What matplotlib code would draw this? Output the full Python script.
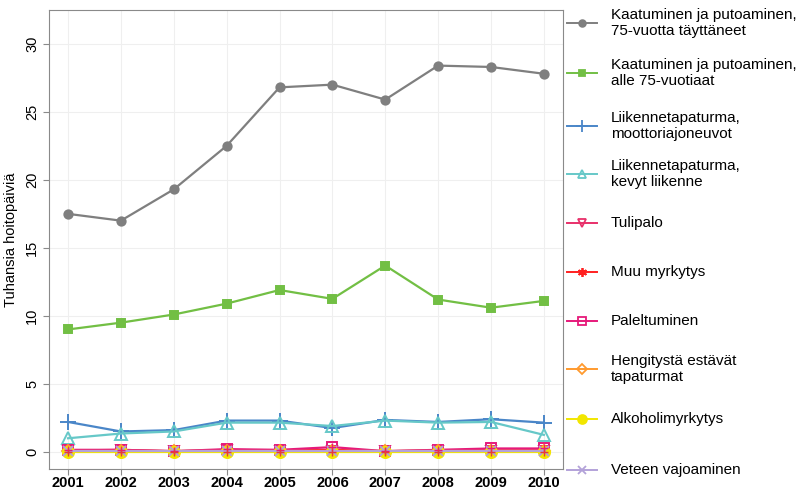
import matplotlib.pyplot as plt
from matplotlib.lines import Line2D

plt.rcParams["font.family"] = ["Liberation Sans", "DejaVu Sans"]

years = [2001, 2002, 2003, 2004, 2005, 2006, 2007, 2008, 2009, 2010]

kaat_75 = [17.5, 17.0, 19.3, 22.5, 26.8, 27.0, 25.9, 28.4, 28.3, 27.8]
kaat_alle = [9.0, 9.5, 10.1, 10.9, 11.9, 11.25, 13.7, 11.2, 10.6, 11.1]
liik_moot = [2.2, 1.5, 1.6, 2.3, 2.3, 1.75, 2.35, 2.2, 2.4, 2.15]
liik_kevyt = [1.0, 1.35, 1.5, 2.15, 2.15, 1.9, 2.3, 2.15, 2.2, 1.25]
tulipalo = [0.1, 0.15, 0.05, 0.15, 0.1, 0.1, 0.05, 0.1, 0.1, 0.1]
muu_myrk = [0.1, 0.1, 0.05, 0.1, 0.1, 0.15, 0.05, 0.1, 0.1, 0.1]
palelt = [0.15, 0.15, 0.05, 0.2, 0.15, 0.35, 0.05, 0.15, 0.25, 0.25]
hengitys = [0.05, 0.05, 0.05, 0.05, 0.05, 0.05, 0.05, 0.05, 0.05, 0.05]
alkoholi = [0.0, 0.0, 0.0, 0.0, 0.0, 0.0, 0.0, 0.0, 0.0, 0.0]
veteen = [0.1, 0.1, 0.1, 0.1, 0.1, 0.1, 0.1, 0.1, 0.1, 0.1]

labels = [
    "Kaatuminen ja putoaminen,\n75-vuotta täyttäneet",
    "Kaatuminen ja putoaminen,\nalle 75-vuotiaat",
    "Liikennetapaturma,\nmoottoriajoneuvot",
    "Liikennetapaturma,\nkevyt liikenne",
    "Tulipalo",
    "Muu myrkytys",
    "Paleltuminen",
    "Hengitystä estävät\ntapaturmat",
    "Alkoholimyrkytys",
    "Veteen vajoaminen",
]

# (color, marker, size, filled)
styles = [
    ("#7f7f7f", "o", 6, True),
    ("#72bf44", "s", 6, True),
    ("#4a86c8", "+", 11, False),
    ("#66c8c8", "^", 8, False),
    ("#e8306a", "v", 7, False),
    ("#ff2020", (6, 2, 0), 8, False),
    ("#e6197a", "s", 7, False),
    ("#ff9a2e", "D", 6, False),
    ("#f2e600", "o", 8, True),
    ("#b3a2d9", "x", 7, False),
]

series = [kaat_75, kaat_alle, liik_moot, liik_kevyt, tulipalo, muu_myrk,
          palelt, hengitys, alkoholi, veteen]

fig = plt.figure(figsize=(8.03, 4.92), dpi=100)
ax = fig.add_axes([0.061, 0.047, 0.64, 0.933])


def draw(target, x, y, st, lw=1.6):
    col, mk, ms, filled = st
    fc = col if filled else "none"
    target.plot(x, y, color=col, lw=lw, marker=mk, ms=ms, mfc=fc,
                mec=col, mew=1.4)


for y, st in zip(series, styles):
    draw(ax, years, y, st)
# extra crosses inside some markers (square with plus, circle with plus)
ax.plot(years, palelt, ls="none", marker="+", ms=6, mec="#e6197a", mew=1.0)
ax.plot(years, alkoholi, ls="none", marker="+", ms=6, mec="#e83a3a", mew=1.0)

ax.set_xlim(2000.64, 2010.36)
ax.set_ylim(-1.25, 32.5)
ax.set_xticks(years)
ax.set_yticks([0, 5, 10, 15, 20, 25, 30])
ax.grid(True, color="#efefef", lw=0.8)
ax.set_axisbelow(True)
for s in ax.spines.values():
    s.set_color("#8a8a8a")
ax.tick_params(axis="both", colors="#8a8a8a", length=4, labelcolor="black")
ax.tick_params(axis="y", labelsize=10.5, pad=3)
ax.tick_params(axis="x", labelsize=10.5, pad=1)
for t in ax.get_yticklabels():
    t.set_rotation(90)
    t.set_va("center")
for t in ax.get_xticklabels():
    t.set_fontweight("bold")
ax.set_ylabel("Tuhansia hoitopäiviä", fontsize=10.5, labelpad=5)

# legend drawn to the right of the plot
W, H = 803, 492
ys = [23, 73, 126, 174, 223, 272, 321, 369, 419, 470]
for yy, lab, st in zip(ys, labels, styles):
    col, mk, ms, filled = st
    fy = 1 - yy / H
    fig.add_artist(Line2D([567 / W, 597 / W], [fy, fy], color=col, lw=1.4))
    fig.add_artist(Line2D([582 / W], [fy], color=col, marker=mk, ms=ms * 0.8,
                          mfc=col if filled else "none", mec=col, mew=1.3))
    fig.text(611 / W, fy, lab, fontsize=11, va="center", ha="left",
             linespacing=1.25)

fig.savefig("out.png", dpi=100)
